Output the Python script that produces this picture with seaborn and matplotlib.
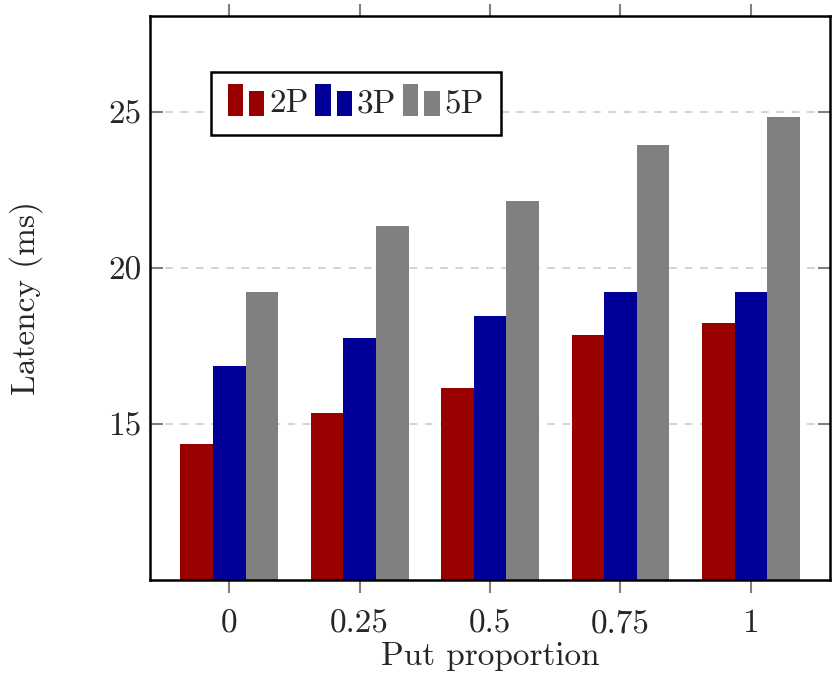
import numpy as np
import pandas as pd
import matplotlib
matplotlib.use('Agg')
import seaborn as sns
import matplotlib.pyplot as plt
from matplotlib.patches import Patch, Rectangle
from matplotlib.legend_handler import HandlerBase

# values
proportions = ['0', '0.25', '0.5', '0.75', '1']
setups = ['2P', '3P', '5P']
lat_2p = [14.35, 15.35, 16.15, 17.85, 18.25]
lat_3p = [16.85, 17.75, 18.47, 19.25, 19.25]
lat_5p = [19.25, 21.35, 22.15, 23.95, 24.85]
colors = ['#990000', '#000099', '#808080']

df = pd.DataFrame({
    'Put proportion': proportions * 3,
    'Setup': ['2P'] * 5 + ['3P'] * 5 + ['5P'] * 5,
    'Latency': lat_2p + lat_3p + lat_5p,
})

sns.set_style('white')
plt.rcParams['font.family'] = ['cmr10', 'DejaVu Serif']
plt.rcParams['axes.formatter.use_mathtext'] = True
plt.rcParams['font.size'] = 24


# pgfplots style legend entry: two bars of different height
class TwoBarHandler(HandlerBase):
    def create_artists(self, legend, orig_handle, xdescent, ydescent,
                       width, height, fontsize, trans):
        c = orig_handle.get_facecolor()
        w = width * 0.42
        r1 = Rectangle((-xdescent, -ydescent - 0.15 * height), w, height * 1.35,
                       facecolor=c, edgecolor='none', transform=trans)
        r2 = Rectangle((-xdescent + width * 0.58, -ydescent - 0.15 * height), w, height * 1.05,
                       facecolor=c, edgecolor='none', transform=trans)
        return [r1, r2]


fig = plt.figure(figsize=(8.32, 6.87), dpi=100)
ax = fig.add_axes([0.180, 0.156, 0.818, 0.821])

sns.barplot(data=df, x='Put proportion', y='Latency', hue='Setup',
            order=proportions, hue_order=setups, palette=colors,
            width=0.75, gap=0, saturation=1, ax=ax, legend=False)
for p in ax.patches:
    p.set_edgecolor('none')

ax.set_ylim(10, 28.1)
ax.set_xlim(-0.61, 4.61)
ax.set_yticks([15, 20, 25])
ax.set_yticklabels(['15', '20', '25'])
ax.yaxis.grid(True, linestyle=(0, (5, 5)), color='#c8c8c8', linewidth=1.1)
ax.set_axisbelow(True)

for s in ax.spines.values():
    s.set_color('black')
    s.set_linewidth(1.8)

ax.tick_params(axis='x', direction='out', length=9, width=1.5, color='#808080',
               top=True, bottom=True, pad=12)
ax.tick_params(axis='y', direction='in', length=9, width=1.5, color='#808080',
               left=True, right=True, pad=6)

ax.set_xlabel('Put proportion', labelpad=3)
ax.set_ylabel('Latency (ms)')
ax.yaxis.set_label_coords(-0.157, 0.5)

handles = [Patch(facecolor=c) for c in colors]
leg = ax.legend(handles, setups, handler_map={Patch: TwoBarHandler()},
                ncol=3, loc='upper left', bbox_to_anchor=(0.09, 0.90),
                borderaxespad=0, frameon=True, fancybox=False,
                handlelength=1.1, handletextpad=0.15, columnspacing=0.2,
                borderpad=0.5, fontsize=24)
leg.get_frame().set_edgecolor('black')
leg.get_frame().set_linewidth(1.8)
leg.get_frame().set_alpha(1)

fig.savefig('out.png', dpi=100)
